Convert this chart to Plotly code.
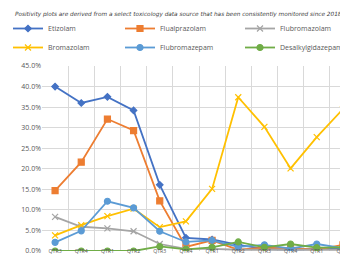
import plotly.graph_objects as go

quarters = ["QTR3", "QTR4", "QTR1", "QTR2", "QTR3", "QTR4", "QTR1", "QTR2", "QTR3", "QTR4", "QTR1", "QTR2"]
etizolam = [40.0, 36.0, 37.5, 34.2, 16.1, 3.2, 2.8, 1.5, 0.5, 0.3, 0.5, 0.5]
flualprazolam = [14.7, 21.6, 32.1, 29.3, 12.2, 1.0, 2.6, 0.3, 0.8, 0.7, 0.3, 1.5]
flubromazolam = [8.3, 5.9, 5.5, 4.8, 1.7, 0.5, 0.5, 0.3, 0.3, 0.3, 0.3, 0.3]
bromazolam = [3.8, 6.3, 8.5, 10.3, 5.8, 7.2, 15.1, 37.4, 30.2, 20.1, 27.7, 34.5]
flubromazepam = [2.1, 4.9, 12.1, 10.5, 4.8, 2.2, 2.6, 1.0, 1.5, 0.6, 1.7, 0.7]
desalkylgidazepam = [0.0, 0.0, 0.0, 0.0, 1.1, 0.4, 0.9, 2.2, 0.9, 1.7, 0.8, 0.9]

# (name, values, colour, marker, size, legend column)
series = [
    ("Etizolam", etizolam, "#4472C4", "diamond", 5, "legend"),
    ("Flualprazolam", flualprazolam, "#ED7D31", "square", 6, "legend2"),
    ("Flubromazolam", flubromazolam, "#A5A5A5", "x-thin", 6, "legend3"),
    ("Bromazolam", bromazolam, "#FFC000", "x-thin", 6, "legend"),
    ("Flubromazepam", flubromazepam, "#5B9BD5", "circle", 6, "legend2"),
    ("Desalkylgidazepam", desalkylgidazepam, "#70AD47", "circle", 6, "legend3"),
]

xs = list(range(len(quarters)))
fig = go.Figure()
for name, vals, color, sym, size, lg in series:
    fig.add_trace(go.Scatter(
        x=xs, y=vals, name=name, mode="lines+markers", legend=lg,
        line=dict(color=color, width=1.8),
        marker=dict(symbol=sym, size=size, color=color,
                    line=dict(color=color, width=1.2)),
    ))

font = "Open Sans"
PL, PW, PB, PH = 33, 315, 243, 185
legend_top = (PB - 6) / PH


def legend_at(px):
    return dict(orientation="v", x=(px - PL) / PW, xanchor="left", y=legend_top, yanchor="top",
                itemwidth=30, font=dict(size=7, color="#595959"), tracegroupgap=0,
                bgcolor="rgba(0,0,0,0)", borderwidth=0)


fig.update_layout(
    width=348, height=257,
    margin=dict(l=PL, r=0, t=58, b=14),
    paper_bgcolor="white", plot_bgcolor="white",
    font=dict(family=font, color="#595959", size=7),
    showlegend=True,
    legend=legend_at(-1),
    legend2=legend_at(112),
    legend3=legend_at(232),
    annotations=[dict(
        text="<i>Positivity plots are derived from a select toxicology data source that has been consistently monitored since 2018.</i>",
        xref="paper", yref="paper", x=(4 - PL) / PW, y=(PB - 6) / PH, xanchor="left", yanchor="middle",
        align="left", showarrow=False, font=dict(size=5.75, color="#404040", family="DejaVu Sans"),
    )],
    xaxis=dict(
        range=[-0.5, 11.5], tickmode="array", tickvals=xs, ticktext=quarters,
        showgrid=False, zeroline=False, showline=False,
        tickfont=dict(size=5.2, color="#595959"), ticklabelstandoff=-4,
        minor=dict(tick0=0.5, dtick=1, showgrid=True, gridcolor="#D9D9D9", gridwidth=1),
        ticks="",
    ),
    yaxis=dict(
        range=[0, 45], dtick=5, ticksuffix="%", tickformat=".1f",
        showgrid=True, gridcolor="#D9D9D9", gridwidth=1, zeroline=False,
        tickfont=dict(size=7, color="#595959"), showline=False,
    ),
)
fig.write_html("out.html")
